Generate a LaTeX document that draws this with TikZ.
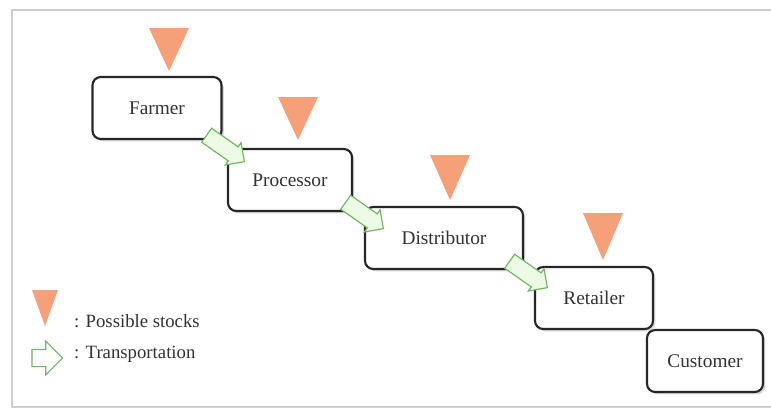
\documentclass[tikz,border=0pt]{standalone}
\usepackage{fontspec}
\setmainfont{Liberation Serif}
\usepackage{tikz}
\usetikzlibrary{shapes.arrows,shadows}
\definecolor{stockorange}{RGB}{245,160,120}
\definecolor{movegreen}{RGB}{110,185,95}
\definecolor{movefill}{RGB}{236,250,230}
\definecolor{framegray}{RGB}{205,205,205}
\definecolor{textgray}{RGB}{50,50,50}

\begin{document}
\begin{tikzpicture}[x=0.03cm, y=-0.03cm]
        \useasboundingbox (0,0) rectangle (771,410);
        \tikzset{actor/.style={draw=black!85, line width=1.8pt, rounded corners=7pt, fill=white,
            minimum height=1.86cm, inner sep=0pt, text=textgray,
            font=\fontsize{16.5}{18}\selectfont,
            drop shadow={shadow xshift=0.07cm, shadow yshift=-0.07cm, opacity=0.3}}}
        \tikzset{move/.style={single arrow, draw=movegreen, fill=movefill, line width=1pt,
            inner xsep=0pt, inner ysep=0.24cm, minimum height=1.38cm,
            single arrow head extend=0.15cm, rotate=-35}}
        \tikzset{stock/.style={fill=stockorange}}
        \tikzset{legend/.style={anchor=west, inner sep=0pt, text=textgray,
            font=\fontsize{16}{18}\selectfont}}
        % frame
        \draw[framegray, line width=1.5pt] (771,10) -- (12,10) -- (12,407) -- (771,407);
        % chain
        \node[actor, minimum width=3.48cm] (customer) at (705,361) {Customer};
        \node[actor, minimum width=3.87cm] (farmer) at (157,108) {Farmer};
        \node[actor, minimum width=3.72cm] (processor) at (290,180) {Processor};
        \node[actor, minimum width=4.74cm] (distributor) at (444,238) {Distributor};
        \node[actor, minimum width=3.54cm] (retailer) at (594,298) {Retailer};
        % stocks
        \fill[stock] (149,28) -- ++(40,0) -- ++(-20,43) -- cycle;
        \fill[stock] (278,97) -- ++(40,0) -- ++(-20,43) -- cycle;
        \fill[stock] (430,155) -- ++(40,0) -- ++(-20,45) -- cycle;
        \fill[stock] (583,213) -- ++(40,0) -- ++(-20,47) -- cycle;
        % transport
        \node[move] (t1) at (222,146) {};
        \node[move] (t2) at (361,213) {};
        \node[move] (t3) at (525,272) {};
        % legend
        \fill[stock] (32,290) -- ++(26,0) -- ++(-13,36) -- cycle;
        \node[single arrow, draw=movegreen, fill=white, line width=1pt, inner xsep=0pt,
            inner ysep=0.24cm, minimum height=0.92cm, single arrow head extend=0.25cm]
            (tkey) at (43,358) {};
        \node[legend] (skey) at (74,321) {: Possible stocks};
        \node[legend] (mkey) at (74,354) {: Transportation};
\end{tikzpicture}
\end{document}
